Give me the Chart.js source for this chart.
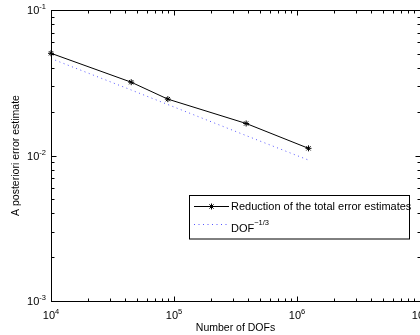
<!DOCTYPE html>
<html>
<head>
<meta charset="utf-8">
<script src="https://cdn.jsdelivr.net/npm/chart.js@4.4.1/dist/chart.umd.min.js"></script>
<style>
  html, body { margin: 0; padding: 0; background: #fff; overflow: hidden; }
  canvas { display: block; }
</style>
</head>
<body>
<canvas id="chart" width="420" height="335"></canvas>
<script>
// data
const dofs = [10000, 44900, 89100, 386000, 1240000];
const errorEstimates = [0.0504, 0.0319, 0.0244, 0.0166, 0.0112];
const dofReference = [0.0464, 0.0282, 0.0224, 0.0137, 0.0093];
const xTickExponents = [4, 5, 6, 7];
const yTickExponents = [-3, -2, -1];

const seriesNames = ["Reduction of the total error estimates", "DOF"];
const xTitle = "Number of DOFs";
const yTitle = "A posteriori error estimate";

const fontName = "'Liberation Sans', Arial, Helvetica, sans-serif";

function toPoints(xs, ys) {
  return xs.map((x, i) => ({ x: x, y: ys[i] }));
}

// draw "10" with a superscript exponent
function drawPower(ctx, exp, x, y, align) {
  ctx.font = "11px " + fontName;
  const baseW = ctx.measureText("10").width;
  ctx.font = "7.5px " + fontName;
  const expW = ctx.measureText(exp).width;
  const total = baseW + expW;
  let left = x;
  if (align === "center") left = x - total / 2;
  if (align === "right") left = x - total;
  ctx.textAlign = "left";
  ctx.textBaseline = "alphabetic";
  ctx.font = "11px " + fontName;
  ctx.fillText("10", left, y);
  ctx.font = "7.5px " + fontName;
  ctx.fillText(exp, left + baseW, y - 5);
}

const axesPlugin = {
  id: "matlabAxes",
  afterDatasetsDraw(chart) {
    const ctx = chart.ctx;
    const area = chart.chartArea;
    const xs = chart.scales.x;
    const ys = chart.scales.y;
    const bl = Math.round(area.left) + 0.5;
    const br = Math.round(area.right) + 0.5;
    const bt = Math.round(area.top) + 0.5;
    const bb = Math.round(area.bottom) + 0.5;
    ctx.save();
    ctx.strokeStyle = "#000";
    ctx.fillStyle = "#000";
    ctx.lineWidth = 1;

    // box
    ctx.strokeRect(bl, bt, br - bl, bb - bt);

    // x ticks, major and minor
    ctx.beginPath();
    for (let e = xTickExponents[0]; e <= xTickExponents[xTickExponents.length - 1]; e++) {
      for (let m = 1; m <= 9; m++) {
        const v = m * Math.pow(10, e);
        if (v > xs.max) break;
        const px = Math.round(xs.getPixelForValue(v)) + 0.5;
        const len = m === 1 ? 5 : 3;
        ctx.moveTo(px, bb);
        ctx.lineTo(px, bb - len);
        ctx.moveTo(px, bt);
        ctx.lineTo(px, bt + len);
      }
    }
    // y ticks, major and minor
    for (let e = yTickExponents[0]; e <= yTickExponents[yTickExponents.length - 1]; e++) {
      for (let m = 1; m <= 9; m++) {
        const v = m * Math.pow(10, e);
        if (v > ys.max * 1.0001) break;
        const py = Math.round(ys.getPixelForValue(v)) + 0.5;
        const len = m === 1 ? 5 : 3;
        ctx.moveTo(bl, py);
        ctx.lineTo(bl + len, py);
        ctx.moveTo(br, py);
        ctx.lineTo(br - len, py);
      }
    }
    ctx.stroke();

    // tick labels
    xTickExponents.forEach(e => {
      const px = xs.getPixelForValue(Math.pow(10, e));
      drawPower(ctx, String(e), px, area.bottom + 17.5, "center");
    });
    yTickExponents.forEach(e => {
      const py = ys.getPixelForValue(Math.pow(10, e));
      drawPower(ctx, String(e), area.left - 5, py + 4, "right");
    });

    // axis titles
    ctx.font = "10.5px " + fontName;
    ctx.textAlign = "center";
    ctx.textBaseline = "alphabetic";
    ctx.fillText(xTitle, (area.left + area.right) / 2, 331);
    ctx.save();
    ctx.translate(16.5, (area.top + area.bottom) / 2);
    ctx.rotate(-Math.PI / 2);
    ctx.textBaseline = "middle";
    ctx.fillText(yTitle, 0, 0);
    ctx.restore();

    // legend
    const lx = 189.5, ly = 195.5, lw = 220, lh = 43.5;
    ctx.fillStyle = "#fff";
    ctx.fillRect(lx, ly, lw, lh);
    ctx.strokeStyle = "#000";
    ctx.strokeRect(lx, ly, lw, lh);

    const ds = chart.data.datasets;
    // entry 1
    ctx.strokeStyle = ds[0].borderColor;
    ctx.lineWidth = 1;
    ctx.beginPath();
    ctx.moveTo(194, 206.5);
    ctx.lineTo(229, 206.5);
    ctx.stroke();
    Chart.helpers.drawPoint(ctx, { pointStyle: "star", radius: 3, borderWidth: 1 }, 211.5, 206.5);
    ctx.fillStyle = "#000";
    ctx.font = "11px " + fontName;
    ctx.textAlign = "left";
    ctx.textBaseline = "middle";
    ctx.fillText(seriesNames[0], 231, 207);

    // entry 2
    ctx.strokeStyle = ds[1].borderColor;
    ctx.setLineDash(ds[1].borderDash);
    ctx.beginPath();
    ctx.moveTo(194, 224.5);
    ctx.lineTo(227, 224.5);
    ctx.stroke();
    ctx.setLineDash([]);
    ctx.fillStyle = "#000";
    ctx.font = "11px " + fontName;
    ctx.fillText(seriesNames[1], 231, 228.5);
    const dofW = ctx.measureText(seriesNames[1]).width;
    ctx.font = "7.5px " + fontName;
    ctx.textBaseline = "alphabetic";
    ctx.fillText("\u22121/3", 231 + dofW, 225);

    ctx.restore();
  }
};

const ctx = document.getElementById("chart").getContext("2d");
const errorChart = new Chart(ctx, {
  type: "line",
  data: {
    datasets: [
      {
        label: seriesNames[0],
        data: toPoints(dofs, errorEstimates),
        borderColor: "#000",
        borderWidth: 1,
        pointStyle: "star",
        pointRadius: 3,
        pointBorderWidth: 1,
        pointBorderColor: "#000",
        tension: 0,
        clip: false
      },
      {
        label: seriesNames[1],
        data: toPoints(dofs, dofReference),
        borderColor: "#5555ff",
        borderWidth: 1,
        borderDash: [1, 3.5],
        pointRadius: 0,
        tension: 0,
        clip: false
      }
    ]
  },
  options: {
    responsive: false,
    animation: false,
    layout: { autoPadding: false, padding: { left: 51, top: 10, right: 0, bottom: 34 } },
    plugins: { legend: { display: false }, tooltip: { enabled: false } },
    scales: {
      x: { type: "logarithmic", display: false, min: 1e4, max: 1e7 },
      y: { type: "logarithmic", display: false, min: 1e-3, max: 1e-1 }
    }
  },
  plugins: [axesPlugin]
});
</script>
</body>
</html>
